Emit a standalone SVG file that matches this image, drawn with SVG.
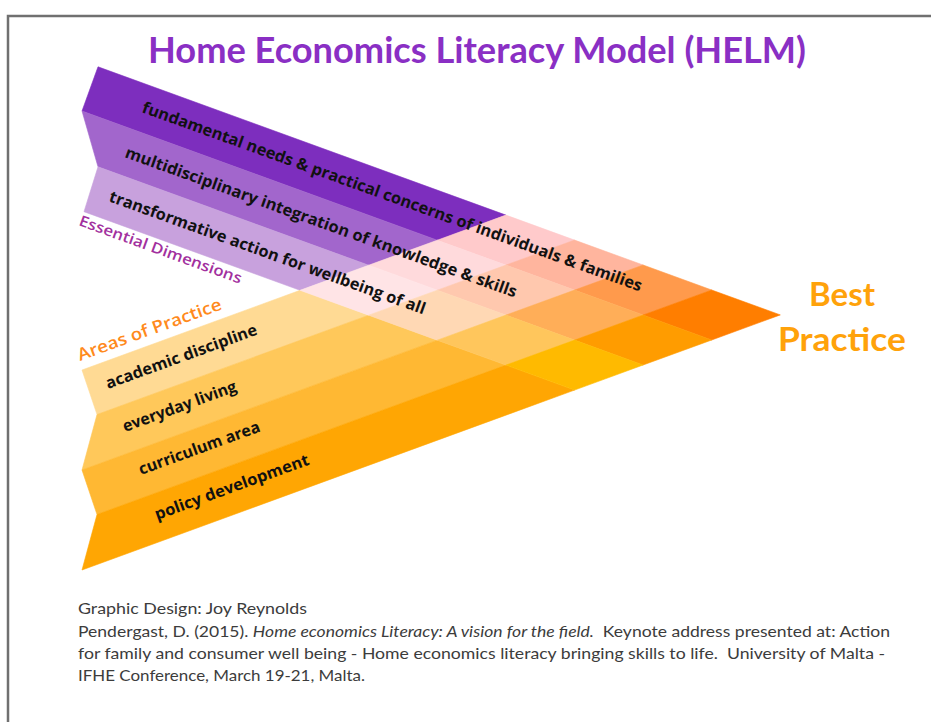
<svg xmlns="http://www.w3.org/2000/svg" width="931" height="722" viewBox="0 0 931 722">
<style>
  .strip { stroke-width: 0.6; stroke-linejoin: round; }
  .lbl { font-family: "Open Sans", Lato, "Liberation Sans", sans-serif; font-weight: bold; font-size: 16px; fill: #111; }
  .cap { font-family: Lato, "Open Sans", "Liberation Sans", sans-serif; font-weight: bold; }
  .foot { font-family: Lato, "Liberation Sans", sans-serif; font-size: 15px; fill: #3c3c3c; }
</style>
<rect width="931" height="722" fill="#ffffff"/>
<path d="M8,722 V16 H931" fill="none" stroke="#707070" stroke-width="2.5"/>

<g id="title">
  <text class="cap" x="148" y="63" font-size="37" fill="#8A2FC4" textLength="658" lengthAdjust="spacingAndGlyphs">Home Economics Literacy Model (HELM)</text>
</g>

<g id="essential-dimensions">
  <polygon class="strip" fill="#7D2EBE" stroke="#7D2EBE" points="98,66.8 505.9,215.1 437.3,240.2 82,111"/>
  <polygon class="strip" fill="#A266CC" stroke="#A266CC" points="82,111 437.3,240.2 368.7,265.2 98,166.8"/>
  <polygon class="strip" fill="#C8A1DD" stroke="#C8A1DD" points="98,166.8 368.7,265.2 300.1,290.3 84,211.7"/>
</g>

<g id="areas-of-practice">
  <polygon class="strip" fill="#FFDA94" stroke="#FFDA94" points="82,370 300.1,290.3 368.7,315.2 97,414.5"/>
  <polygon class="strip" fill="#FFC85A" stroke="#FFC85A" points="97,414.5 368.7,315.2 437.3,340.2 82,470"/>
  <polygon class="strip" fill="#FFB833" stroke="#FFB833" points="82,470 437.3,340.2 505.9,365.1 97,514.5"/>
  <polygon class="strip" fill="#FFA603" stroke="#FFA603" points="97,514.5 505.9,365.1 574.5,390.1 82,570"/>
</g>

<g id="overlap">
  <polygon class="strip" fill="#FFCACB" stroke="#FFCACB" points="505.9,215.1 574.5,240.1 505.9,265.1 437.3,240.2"/>
  <polygon class="strip" fill="#FFB59E" stroke="#FFB59E" points="574.5,240.1 643.1,265 574.5,290.1 505.9,265.1"/>
  <polygon class="strip" fill="#FF9A4C" stroke="#FF9A4C" points="643.1,265 711.7,290 643.1,315 574.5,290.1"/>
  <polygon class="strip" fill="#FF7E00" stroke="#FF7E00" points="711.7,290 780.3,314.9 711.7,340 643.1,315"/>

  <polygon class="strip" fill="#FFDADC" stroke="#FFDADC" points="437.3,240.2 505.9,265.1 437.3,290.2 368.7,265.2"/>
  <polygon class="strip" fill="#FFC8AE" stroke="#FFC8AE" points="505.9,265.1 574.5,290.1 505.9,315.1 437.3,290.2"/>
  <polygon class="strip" fill="#FFAE58" stroke="#FFAE58" points="574.5,290.1 643.1,315 574.5,340.1 505.9,315.1"/>
  <polygon class="strip" fill="#FF9C00" stroke="#FF9C00" points="643.1,315 711.7,340 643.1,365 574.5,340.1"/>

  <polygon class="strip" fill="#FFE4E6" stroke="#FFE4E6" points="368.7,265.2 437.3,290.2 368.7,315.2 300.1,290.3"/>
  <polygon class="strip" fill="#FFD8B4" stroke="#FFD8B4" points="437.3,290.2 505.9,315.1 437.3,340.2 368.7,315.2"/>
  <polygon class="strip" fill="#FFC65C" stroke="#FFC65C" points="505.9,315.1 574.5,340.1 505.9,365.1 437.3,340.2"/>
  <polygon class="strip" fill="#FFBA00" stroke="#FFBA00" points="574.5,340.1 643.1,365 574.5,390.1 505.9,365.1"/>
</g>

<g id="dimension-labels">
  <text class="lbl" transform="translate(141,112) rotate(19.8)" textLength="530" lengthAdjust="spacingAndGlyphs">fundamental needs &amp; practical concerns of individuals &amp; families</text>
  <text class="lbl" transform="translate(124,157) rotate(19.8)" textLength="415" lengthAdjust="spacingAndGlyphs">multidisciplinary integration of knowledge &amp; skills</text>
  <text class="lbl" transform="translate(108,201) rotate(19.8)" textLength="335" lengthAdjust="spacingAndGlyphs">transformative action for wellbeing of all</text>
  <text transform="translate(78,225) rotate(20)" font-family="'Open Sans', Lato, sans-serif" font-weight="600" font-size="15" fill="#A2309E" textLength="172" lengthAdjust="spacingAndGlyphs">Essential Dimensions</text>
</g>

<g id="practice-labels">
  <text transform="translate(80,361) rotate(-20)" font-family="'Open Sans', Lato, sans-serif" font-weight="600" font-size="17" fill="#FF8A1C" textLength="152" lengthAdjust="spacingAndGlyphs">Areas of Practice</text>
  <text class="lbl" transform="translate(108,389) rotate(-20)" textLength="160" lengthAdjust="spacingAndGlyphs">academic discipline</text>
  <text class="lbl" transform="translate(125,432) rotate(-20)" textLength="120" lengthAdjust="spacingAndGlyphs">everyday living</text>
  <text class="lbl" transform="translate(141,475) rotate(-20)" textLength="128" lengthAdjust="spacingAndGlyphs">curriculum area</text>
  <text class="lbl" transform="translate(157,520) rotate(-20)" textLength="163" lengthAdjust="spacingAndGlyphs">policy development</text>
</g>

<g id="best-practice">
  <text class="cap" x="842" y="306" font-size="33" fill="#FFA20A" text-anchor="middle">Best</text>
  <text class="cap" x="842" y="351" font-size="33" fill="#FFA20A" text-anchor="middle" textLength="128" lengthAdjust="spacingAndGlyphs">Practice</text>
</g>

<g id="credits">
  <text class="foot" x="78" y="614" textLength="229" lengthAdjust="spacingAndGlyphs">Graphic Design: Joy Reynolds</text>
  <text class="foot" x="78" y="637" xml:space="preserve" textLength="812" lengthAdjust="spacingAndGlyphs">Pendergast, D. (2015). <tspan font-style="italic">Home economics Literacy: A vision for the field.</tspan>  Keynote address presented at: Action</text>
  <text class="foot" x="78" y="659" xml:space="preserve" textLength="807" lengthAdjust="spacingAndGlyphs">for family and consumer well being - Home economics literacy bringing skills to life.  University of Malta -</text>
  <text class="foot" x="78" y="681" textLength="287" lengthAdjust="spacingAndGlyphs">IFHE Conference, March 19-21, Malta.</text>
</g>
</svg>
